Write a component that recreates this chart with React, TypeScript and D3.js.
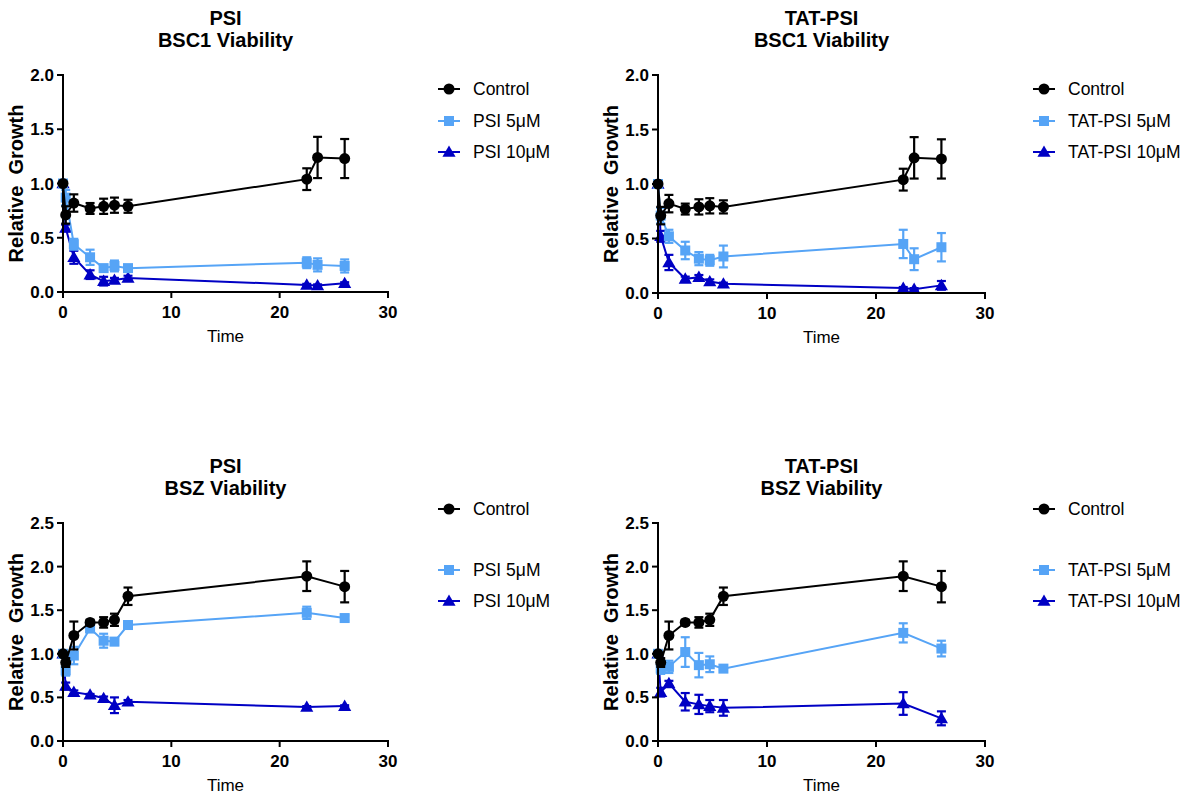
import React from 'react';
import * as d3 from 'd3';

// time points (hours)
const timesBSC1 = [0, 0.25, 1, 2.5, 3.75, 4.75, 6, 22.5, 23.5, 26];
const timesBSZ = [0, 0.25, 1, 2.5, 3.75, 4.75, 6, 22.5, 26];

const xTicks = [0, 10, 20, 30];
const yTicksBSC1 = [0, 0.5, 1.0, 1.5, 2.0];
const yTicksBSZ = [0, 0.5, 1.0, 1.5, 2.0, 2.5];

// BSC1 control (same in both top panels)
const ctrlBSC1 = [1.0, 0.71, 0.82, 0.77, 0.79, 0.8, 0.79, 1.04, 1.24, 1.23];
const ctrlBSC1Err = [0, 0.08, 0.08, 0.05, 0.07, 0.07, 0.06, 0.1, 0.19, 0.18];
const psi5BSC1 = [1.0, 0.87, 0.44, 0.32, 0.22, 0.24, 0.22, 0.27, 0.25, 0.24];
const psi5BSC1Err = [0, 0.07, 0.05, 0.07, 0.02, 0.05, 0.02, 0.05, 0.06, 0.06];
const psi10BSC1 = [1.0, 0.59, 0.32, 0.16, 0.1, 0.11, 0.13, 0.065, 0.06, 0.08];
const psi10BSC1Err = [0, 0.03, 0.06, 0.04, 0.04, 0.02, 0.02, 0.01, 0.01, 0.01];
const tat5BSC1 = [1.0, 0.71, 0.52, 0.39, 0.315, 0.3, 0.335, 0.45, 0.31, 0.42];
const tat5BSC1Err = [0, 0.07, 0.06, 0.08, 0.06, 0.05, 0.1, 0.13, 0.1, 0.13];
const tat10BSC1 = [1.0, 0.52, 0.28, 0.13, 0.145, 0.105, 0.085, 0.045, 0.035, 0.07];
const tat10BSC1Err = [0, 0.05, 0.07, 0.02, 0.02, 0.02, 0.01, 0.01, 0.01, 0.04];

// BSZ
const ctrlBSZ = [1.0, 0.9, 1.21, 1.36, 1.36, 1.39, 1.66, 1.89, 1.77];
const ctrlBSZErr = [0, 0.05, 0.16, 0.03, 0.06, 0.07, 0.1, 0.17, 0.18];
const psi5BSZ = [1.0, 0.81, 0.98, 1.29, 1.15, 1.14, 1.33, 1.47, 1.41];
const psi5BSZErr = [0, 0.06, 0.1, 0.04, 0.08, 0.04, 0.04, 0.07, 0.03];
const psi10BSZ = [1.0, 0.63, 0.56, 0.53, 0.49, 0.41, 0.45, 0.39, 0.4];
const psi10BSZErr = [0, 0.04, 0.02, 0.01, 0.02, 0.09, 0.02, 0.01, 0.01];
const tat5BSZ = [1.0, 0.83, 0.85, 1.02, 0.87, 0.88, 0.83, 1.24, 1.06];
const tat5BSZErr = [0, 0.06, 0.07, 0.17, 0.14, 0.09, 0.02, 0.11, 0.09];
const tat10BSZ = [1.0, 0.56, 0.66, 0.45, 0.42, 0.4, 0.38, 0.43, 0.26];
const tat10BSZErr = [0, 0.05, 0.03, 0.1, 0.11, 0.07, 0.09, 0.13, 0.08];

const BLACK = '#000000';
const LIGHT = '#56a4f6';
const DARK = '#0000c4';
const FONT = '"Liberation Sans", Arial, sans-serif';

type Series = { label: string; values: number[]; err: number[]; color: string; shape: string };

const Marker = ({ shape, x, y, color }: { shape: string; x: number; y: number; color: string }) => {
  if (shape === 'circle') return <circle cx={x} cy={y} r={5.5} fill={color} />;
  if (shape === 'square') return <rect x={x - 5} y={y - 5} width={10} height={10} fill={color} />;
  const sym = d3.symbol().type(d3.symbolTriangle).size(75)();
  return <path d={sym as string} transform={`translate(${x},${y + 1})`} fill={color} />;
};

const Panel = ({ title, times, series, yTicks, x0, x1, yBottom, yTop, legendX, legendRows }:
  { title: string[]; times: number[]; series: Series[]; yTicks: number[]; x0: number; x1: number;
    yBottom: number; yTop: number; legendX: number; legendRows: number[] }) => {
  const x = d3.scaleLinear().domain([0, 30]).range([x0, x1]);
  const y = d3.scaleLinear().domain([0, yTicks[yTicks.length - 1]]).range([yBottom, yTop]);
  const line = d3.line<number>().x((_, i) => x(times[i])).y(d => y(d));
  const cx = (x0 + x1) / 2;
  const cy = (yTop + yBottom) / 2;
  // draw higher dose first so control sits on top
  const drawOrder = [...series].reverse();
  return (
    <g fontFamily={FONT}>
      <text x={cx} y={yTop - 50} textAnchor="middle" fontWeight="bold" fontSize={20}>{title[0]}</text>
      <text x={cx} y={yTop - 28} textAnchor="middle" fontWeight="bold" fontSize={20}>{title[1]}</text>

      {drawOrder.map(s => (
        <g key={s.label}>
          <path d={line(s.values) as string} fill="none" stroke={s.color} strokeWidth={2} />
          {s.values.map((v, i) => s.err[i] > 0 ? (
            <g key={i} stroke={s.color} strokeWidth={2.2}>
              <line x1={x(times[i])} x2={x(times[i])} y1={y(v - s.err[i])} y2={y(v + s.err[i])} />
              <line x1={x(times[i]) - 4.5} x2={x(times[i]) + 4.5} y1={y(v - s.err[i])} y2={y(v - s.err[i])} />
              <line x1={x(times[i]) - 4.5} x2={x(times[i]) + 4.5} y1={y(v + s.err[i])} y2={y(v + s.err[i])} />
            </g>
          ) : null)}
          {s.values.map((v, i) => <Marker key={i} shape={s.shape} x={x(times[i])} y={y(v)} color={s.color} />)}
        </g>
      ))}

      {/* axes */}
      <line x1={x0} x2={x0} y1={yTop - 1} y2={yBottom} stroke="#000" strokeWidth={2} />
      <line x1={x0 - 1} x2={x1 + 1} y1={yBottom} y2={yBottom} stroke="#000" strokeWidth={2} />
      {yTicks.map(t => (
        <g key={t}>
          <line x1={x0 - 6} x2={x0} y1={y(t)} y2={y(t)} stroke="#000" strokeWidth={2} />
          <text x={x0 - 9} y={y(t) + 6} textAnchor="end" fontWeight="bold" fontSize={17}>{t.toFixed(1)}</text>
        </g>
      ))}
      {xTicks.map(t => (
        <g key={t}>
          <line x1={x(t)} x2={x(t)} y1={yBottom} y2={yBottom + 6} stroke="#000" strokeWidth={2} />
          <text x={x(t)} y={yBottom + 26} textAnchor="middle" fontWeight="bold" fontSize={17}>{t}</text>
        </g>
      ))}
      <text x={cx} y={yBottom + 50} textAnchor="middle" fontSize={17}>Time</text>
      <text transform={`translate(${x0 - 40},${cy}) rotate(-90)`} textAnchor="middle" fontWeight="bold" fontSize={20}
        style={{ whiteSpace: 'pre' }}>{'Relative  Growth'}</text>

      {/* legend */}
      {series.map((s, i) => {
        const ly = legendRows[i];
        return (
          <g key={s.label}>
            <line x1={legendX} x2={legendX + 22} y1={ly} y2={ly} stroke={s.color} strokeWidth={2} />
            <Marker shape={s.shape} x={legendX + 11} y={ly} color={s.color} />
            <text x={legendX + 35} y={ly + 6} fontSize={17.5}>{s.label}</text>
          </g>
        );
      })}
    </g>
  );
};

export default function App() {
  return (
    <svg width={1196} height={799} style={{ position: 'absolute', left: 0, top: 0, background: '#fff' }}>
      <Panel title={['PSI', 'BSC1 Viability']} times={timesBSC1} yTicks={yTicksBSC1}
        x0={63} x1={388} yBottom={292} yTop={75} legendX={438} legendRows={[89, 121, 152]}
        series={[
          { label: 'Control', values: ctrlBSC1, err: ctrlBSC1Err, color: BLACK, shape: 'circle' },
          { label: 'PSI 5\u03bcM', values: psi5BSC1, err: psi5BSC1Err, color: LIGHT, shape: 'square' },
          { label: 'PSI 10\u03bcM', values: psi10BSC1, err: psi10BSC1Err, color: DARK, shape: 'triangle' },
        ]} />
      <Panel title={['TAT-PSI', 'BSC1 Viability']} times={timesBSC1} yTicks={yTicksBSC1}
        x0={658} x1={985} yBottom={293} yTop={75} legendX={1033} legendRows={[89, 121, 152]}
        series={[
          { label: 'Control', values: ctrlBSC1, err: ctrlBSC1Err, color: BLACK, shape: 'circle' },
          { label: 'TAT-PSI 5\u03bcM', values: tat5BSC1, err: tat5BSC1Err, color: LIGHT, shape: 'square' },
          { label: 'TAT-PSI 10\u03bcM', values: tat10BSC1, err: tat10BSC1Err, color: DARK, shape: 'triangle' },
        ]} />
      <Panel title={['PSI', 'BSZ Viability']} times={timesBSZ} yTicks={yTicksBSZ}
        x0={63} x1={388} yBottom={741} yTop={523} legendX={438} legendRows={[509, 570, 601]}
        series={[
          { label: 'Control', values: ctrlBSZ, err: ctrlBSZErr, color: BLACK, shape: 'circle' },
          { label: 'PSI 5\u03bcM', values: psi5BSZ, err: psi5BSZErr, color: LIGHT, shape: 'square' },
          { label: 'PSI 10\u03bcM', values: psi10BSZ, err: psi10BSZErr, color: DARK, shape: 'triangle' },
        ]} />
      <Panel title={['TAT-PSI', 'BSZ Viability']} times={timesBSZ} yTicks={yTicksBSZ}
        x0={658} x1={985} yBottom={741} yTop={523} legendX={1033} legendRows={[509, 570, 601]}
        series={[
          { label: 'Control', values: ctrlBSZ, err: ctrlBSZErr, color: BLACK, shape: 'circle' },
          { label: 'TAT-PSI 5\u03bcM', values: tat5BSZ, err: tat5BSZErr, color: LIGHT, shape: 'square' },
          { label: 'TAT-PSI 10\u03bcM', values: tat10BSZ, err: tat10BSZErr, color: DARK, shape: 'triangle' },
        ]} />
    </svg>
  );
}
